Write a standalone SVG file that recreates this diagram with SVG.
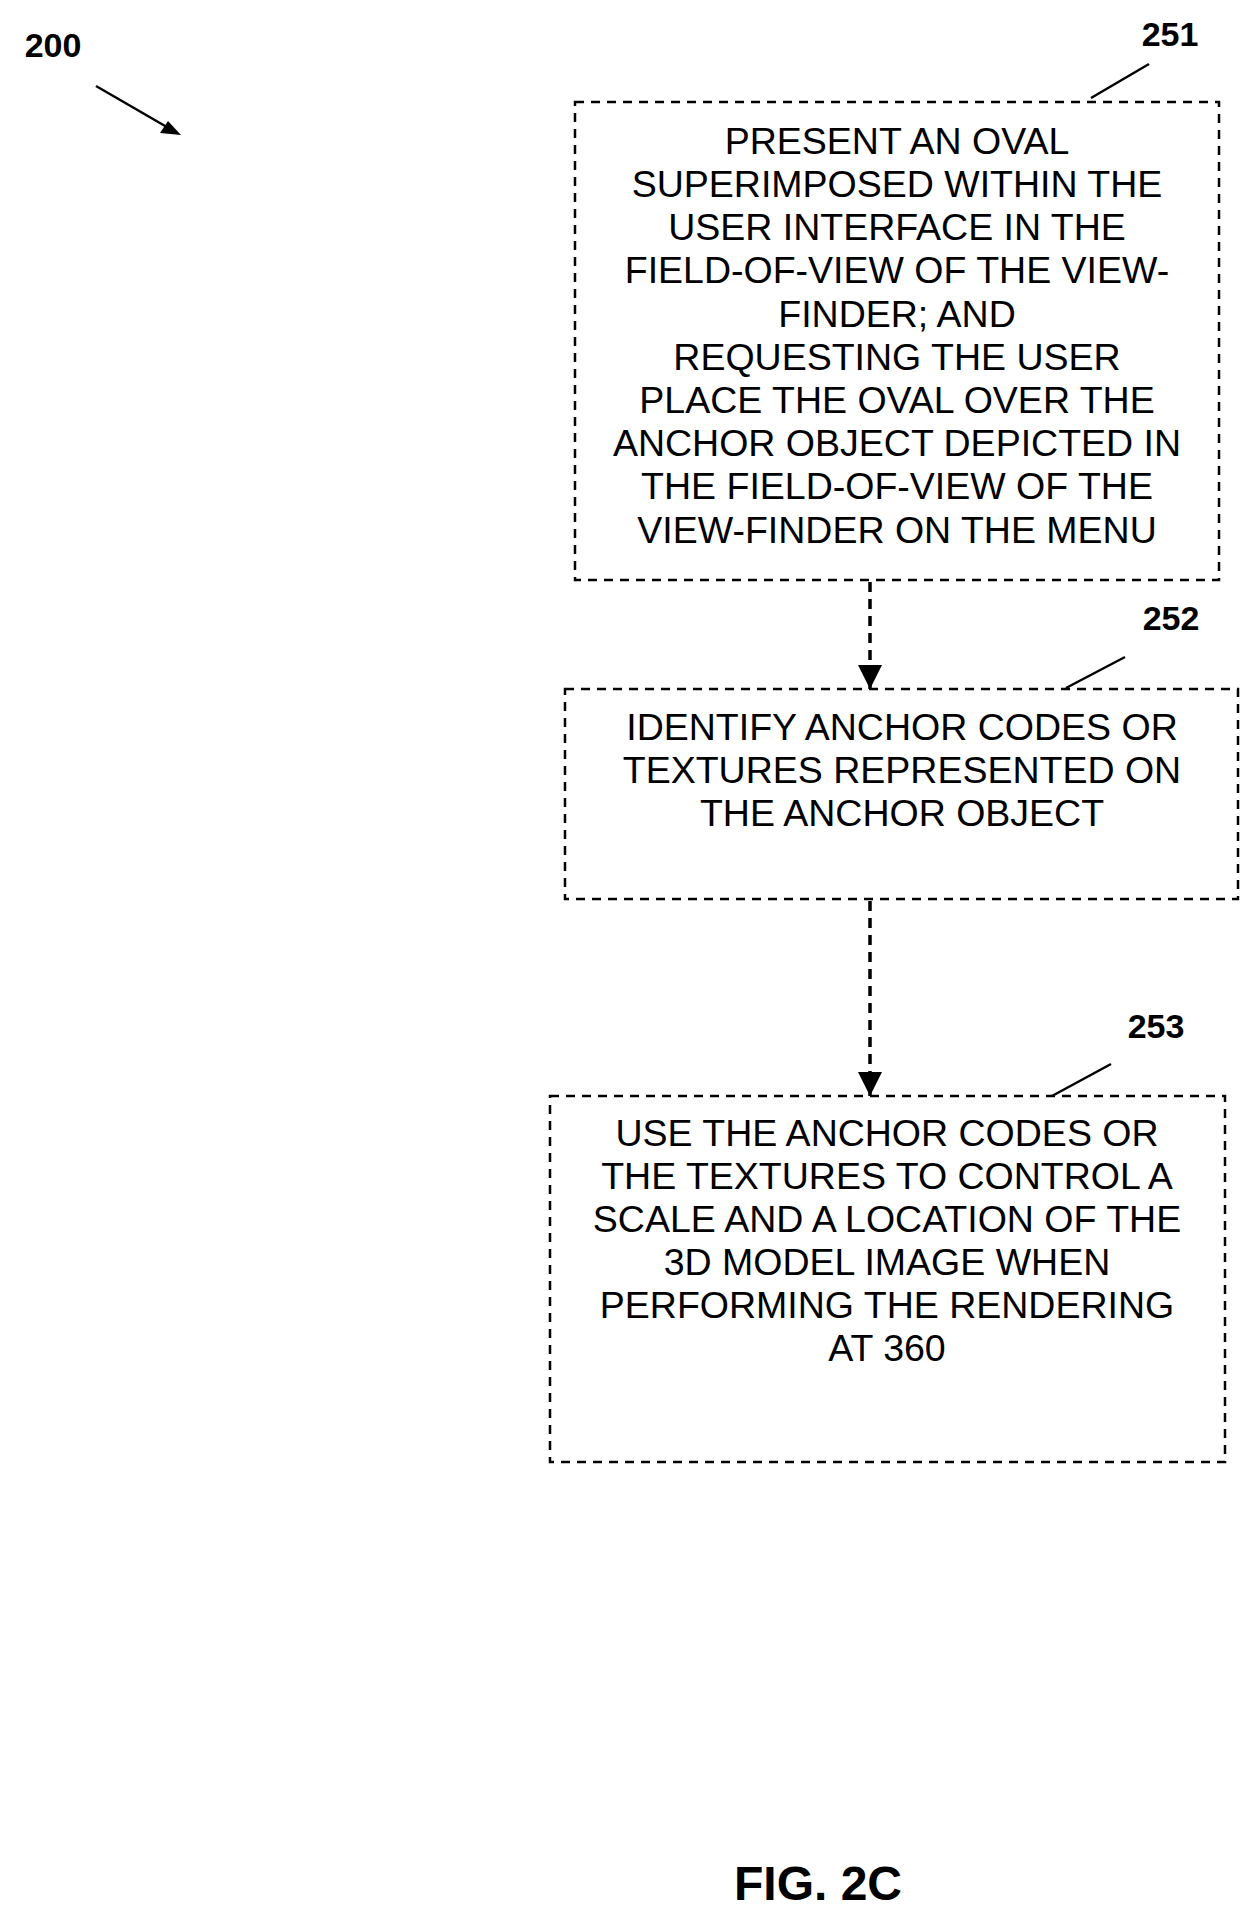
<svg xmlns="http://www.w3.org/2000/svg" width="1258" height="1923" viewBox="0 0 1258 1923">
<style>
.box{fill:none;stroke:#000;stroke-width:2.5;stroke-dasharray:9,7}
.t{font-family:"Liberation Sans",Arial,sans-serif;font-size:37.5px;text-anchor:middle;fill:#000}
.lbl{font-family:"Liberation Sans",Arial,sans-serif;font-size:34px;font-weight:bold;text-anchor:middle;fill:#000}
.ln{stroke:#000;stroke-width:2.5;fill:none}
.dash{stroke:#000;stroke-width:3.5;fill:none;stroke-dasharray:10,7}
</style>
<defs>
<marker id="ah2" viewBox="0 0 10 10" refX="10" refY="5" markerWidth="24" markerHeight="24" markerUnits="userSpaceOnUse" orient="auto">
<path d="M0,0L10,5L0,10z" fill="#000"/>
</marker>
</defs>
<g id="label200">
<text class="lbl" x="53" y="57">200</text>
<line class="ln" x1="96" y1="86" x2="172" y2="130"/>
<path d="M181,135L160,133L168,121z" fill="#000"/>
</g>
<g id="n251">
<rect class="box" x="575" y="102" width="644" height="478"/>
<text class="t" x="897" y="154">PRESENT AN OVAL</text>
<text class="t" x="897" y="197">SUPERIMPOSED WITHIN THE</text>
<text class="t" x="897" y="240">USER INTERFACE IN THE</text>
<text class="t" x="897" y="283">FIELD-OF-VIEW OF THE VIEW-</text>
<text class="t" x="897" y="327">FINDER; AND</text>
<text class="t" x="897" y="370">REQUESTING THE USER</text>
<text class="t" x="897" y="413">PLACE THE OVAL OVER THE</text>
<text class="t" x="897" y="456">ANCHOR OBJECT DEPICTED IN</text>
<text class="t" x="897" y="499">THE FIELD-OF-VIEW OF THE</text>
<text class="t" x="897" y="543">VIEW-FINDER ON THE MENU</text>
<text class="lbl" x="1170" y="46">251</text>
<line class="ln" x1="1091" y1="98" x2="1149" y2="64"/>
</g>
<g id="n252">
<rect class="box" x="565" y="689" width="673" height="210"/>
<text class="t" x="902" y="740">IDENTIFY ANCHOR CODES OR</text>
<text class="t" x="902" y="783">TEXTURES REPRESENTED ON</text>
<text class="t" x="902" y="826">THE ANCHOR OBJECT</text>
<text class="lbl" x="1171" y="630">252</text>
<line class="ln" x1="1066" y1="688" x2="1125" y2="657"/>
</g>
<g id="n253">
<rect class="box" x="550" y="1096" width="675" height="366"/>
<text class="t" x="887" y="1146">USE THE ANCHOR CODES OR</text>
<text class="t" x="887" y="1189">THE TEXTURES TO CONTROL A</text>
<text class="t" x="887" y="1232">SCALE AND A LOCATION OF THE</text>
<text class="t" x="887" y="1275">3D MODEL IMAGE WHEN</text>
<text class="t" x="887" y="1318">PERFORMING THE RENDERING</text>
<text class="t" x="887" y="1361">AT 360</text>
<text class="lbl" x="1156" y="1038">253</text>
<line class="ln" x1="1052" y1="1096" x2="1111" y2="1064"/>
</g>
<g id="connectors">
<line class="dash" x1="870" y1="582" x2="870" y2="689" marker-end="url(#ah2)"/>
<line class="dash" x1="870" y1="901" x2="870" y2="1096" marker-end="url(#ah2)"/>
</g>
<text class="lbl" x="818" y="1900" style="font-size:48px">FIG. 2C</text>
</svg>
